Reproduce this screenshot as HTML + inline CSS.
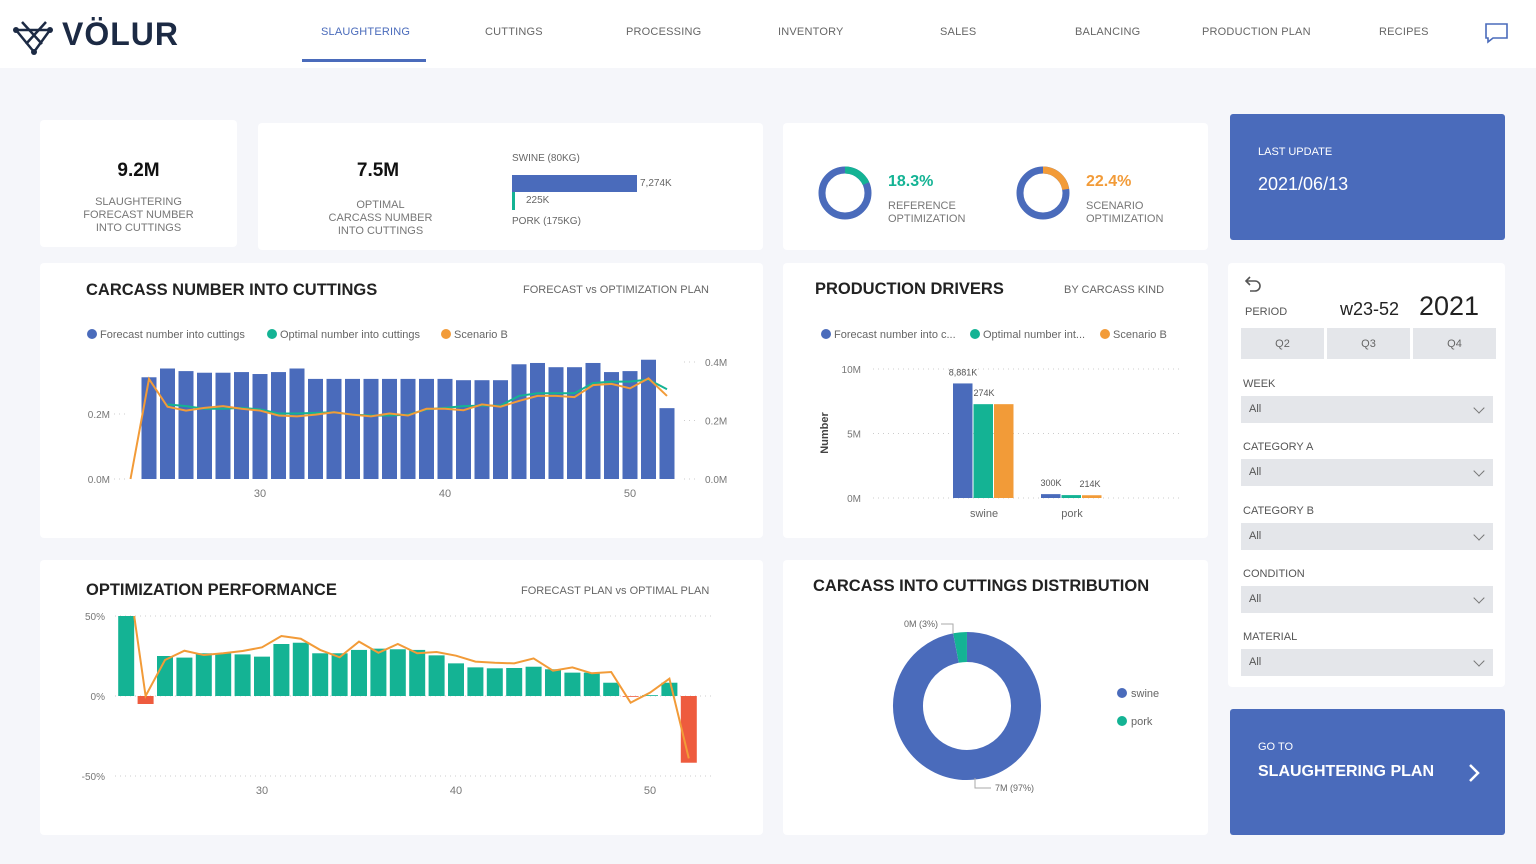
<!DOCTYPE html>
<html><head><meta charset="utf-8">
<style>
*{box-sizing:border-box;margin:0;padding:0}
body{width:1536px;height:864px;background:#f5f6fa;font-family:"Liberation Sans",sans-serif;position:relative;overflow:hidden;color:#333}
.abs{position:absolute}
.card{position:absolute;background:#fff;border-radius:4px}
.nav{position:absolute;top:26px;font-size:11px;color:#666;letter-spacing:.2px}
.lbl{position:absolute;font-size:11px;color:#777;text-align:center;line-height:13px}
.title{position:absolute;font-size:16.5px;font-weight:bold;color:#222}
.sub{position:absolute;font-size:11px;color:#666}
.slab{position:absolute;left:1243px;font-size:11px;color:#555}
.sel{position:absolute;left:1241px;width:252px;height:27px;background:#e4e6ea;font-size:11px;color:#555;padding:7px 0 0 8px}
.sel:after{content:"";position:absolute;right:10px;top:8px;width:7px;height:7px;border-right:1.5px solid #777;border-bottom:1.5px solid #777;transform:rotate(45deg)}
svg text{font-family:"Liberation Sans",sans-serif}
</style></head><body>
<div class="abs" style="left:0;top:0;width:1536px;height:68px;background:#fff"></div>
<div class="abs" style="left:12px;top:14px;height:40px">
<svg width="44" height="40" class="abs" style="left:0;top:2px"><g stroke="#1c2a44" stroke-width="2.5" fill="none"><path d="M4 14 L38 14 L22 36 Z"/><path d="M10 6 L30 28 M34 6 L14 28"/></g><circle cx="4" cy="14" r="3" fill="#1c2a44"/><circle cx="38" cy="14" r="3" fill="#1c2a44"/><circle cx="22" cy="36" r="3" fill="#1c2a44"/></svg>
<span class="abs" style="left:50px;top:2px;font-size:32px;font-weight:bold;color:#1c2a44;letter-spacing:1px">VÖLUR</span></div>
<div class="nav" style="left:321px;color:#4a6bbb">SLAUGHTERING</div>
<div class="abs" style="left:302px;top:59px;width:124px;height:3px;background:#4a6bbb"></div>
<div class="nav" style="left:485px">CUTTINGS</div>
<div class="nav" style="left:626px">PROCESSING</div>
<div class="nav" style="left:778px">INVENTORY</div>
<div class="nav" style="left:940px">SALES</div>
<div class="nav" style="left:1075px">BALANCING</div>
<div class="nav" style="left:1202px">PRODUCTION PLAN</div>
<div class="nav" style="left:1379px">RECIPES</div>
<svg class="abs" style="left:1484px;top:22px" width="26" height="22"><path d="M2 2 H23 V16 H9 L4 20 V16 H2 Z" fill="none" stroke="#4a6bbb" stroke-width="1.6"/></svg>

<div class="card" style="left:40px;top:120px;width:197px;height:127px"></div>
<div class="abs" style="left:40px;width:197px;top:160px;text-align:center;font-size:19px;font-weight:bold;color:#111">9.2M</div>
<div class="lbl" style="left:40px;width:197px;top:196px">SLAUGHTERING<br>FORECAST NUMBER<br>INTO CUTTINGS</div>

<div class="card" style="left:258px;top:123px;width:505px;height:127px"></div>
<div class="abs" style="left:318px;width:120px;top:160px;text-align:center;font-size:19px;font-weight:bold;color:#111">7.5M</div>
<div class="lbl" style="left:308px;width:145px;top:199px">OPTIMAL<br>CARCASS NUMBER<br>INTO CUTTINGS</div>
<div class="sub" style="left:512px;top:153px;font-size:10px">SWINE (80KG)</div>
<div class="abs" style="left:512px;top:175px;width:125px;height:17px;background:#4a6bbb"></div>
<div class="sub" style="left:640px;top:178px;font-size:10px">7,274K</div>
<div class="abs" style="left:512px;top:192px;width:3px;height:18px;background:#14b394"></div>
<div class="sub" style="left:526px;top:195px;font-size:10px">225K</div>
<div class="sub" style="left:512px;top:216px;font-size:10px">PORK (175KG)</div>

<div class="card" style="left:783px;top:123px;width:425px;height:127px"></div>
<svg class="abs" style="left:815px;top:163px" width="60" height="60" id="d1"></svg>
<div class="abs" style="left:888px;top:173px;font-size:16px;font-weight:bold;color:#14b394">18.3%</div>
<div class="lbl" style="left:888px;top:200px;text-align:left">REFERENCE<br>OPTIMIZATION</div>
<svg class="abs" style="left:1013px;top:163px" width="60" height="60" id="d2"></svg>
<div class="abs" style="left:1086px;top:173px;font-size:16px;font-weight:bold;color:#f29b38">22.4%</div>
<div class="lbl" style="left:1086px;top:200px;text-align:left">SCENARIO<br>OPTIMIZATION</div>

<div class="abs" style="left:1230px;top:114px;width:275px;height:126px;background:#4a6bbb;border-radius:3px"></div>
<div class="abs" style="left:1258px;top:146px;font-size:11px;color:#fff">LAST UPDATE</div>
<div class="abs" style="left:1258px;top:174px;font-size:18px;color:#fff">2021/06/13</div>

<div class="card" style="left:40px;top:263px;width:723px;height:275px"></div>
<div class="title" style="left:86px;top:281px">CARCASS NUMBER INTO CUTTINGS</div>
<div class="sub" style="left:523px;top:284px">FORECAST vs OPTIMIZATION PLAN</div>
<svg class="abs" style="left:0;top:0" width="770" height="540" id="c1"></svg>

<div class="card" style="left:783px;top:263px;width:425px;height:275px"></div>
<div class="title" style="left:815px;top:280px">PRODUCTION DRIVERS</div>
<div class="sub" style="left:1064px;top:284px">BY CARCASS KIND</div>
<svg class="abs" style="left:783px;top:263px" width="425" height="275" id="c2"></svg>

<div class="card" style="left:1228px;top:263px;width:277px;height:424px"></div>
<svg class="abs" style="left:1241px;top:273px" width="22" height="22"><path d="M6 8 H14 A5 5 0 0 1 14 18 H9" fill="none" stroke="#555" stroke-width="1.6"/><path d="M9 4 L5 8 L9 12" fill="none" stroke="#555" stroke-width="1.6"/></svg>
<div class="slab" style="left:1245px;top:306px">PERIOD</div>
<div class="abs" style="left:1340px;top:299px;font-size:18px;color:#222">w23-52</div>
<div class="abs" style="left:1419px;top:291px;font-size:27px;color:#222">2021</div>
<div class="abs" style="left:1241px;top:328px;width:83px;height:31px;background:#e4e6ea;font-size:11px;color:#666;text-align:center;padding-top:10px">Q2</div>
<div class="abs" style="left:1327px;top:328px;width:83px;height:31px;background:#e4e6ea;font-size:11px;color:#666;text-align:center;padding-top:10px">Q3</div>
<div class="abs" style="left:1413px;top:328px;width:83px;height:31px;background:#e4e6ea;font-size:11px;color:#666;text-align:center;padding-top:10px">Q4</div>
<div class="slab" style="top:378px">WEEK</div>
<div class="sel" style="top:396px">All</div>
<div class="slab" style="top:441px">CATEGORY A</div>
<div class="sel" style="top:459px">All</div>
<div class="slab" style="top:505px">CATEGORY B</div>
<div class="sel" style="top:523px">All</div>
<div class="slab" style="top:568px">CONDITION</div>
<div class="sel" style="top:586px">All</div>
<div class="slab" style="top:631px">MATERIAL</div>
<div class="sel" style="top:649px">All</div>

<div class="card" style="left:40px;top:560px;width:723px;height:275px"></div>
<div class="title" style="left:86px;top:581px">OPTIMIZATION PERFORMANCE</div>
<div class="sub" style="left:521px;top:585px">FORECAST PLAN vs OPTIMAL PLAN</div>
<svg class="abs" style="left:0;top:0" width="770" height="840" id="c3"></svg>

<div class="card" style="left:783px;top:560px;width:425px;height:275px"></div>
<div class="title" style="left:813px;top:577px">CARCASS INTO CUTTINGS DISTRIBUTION</div>
<svg class="abs" style="left:783px;top:560px" width="425" height="275" id="c4"></svg>

<div class="abs" style="left:1230px;top:709px;width:275px;height:126px;background:#4a6bbb;border-radius:3px">
<div class="abs" style="left:28px;top:32px;font-size:11px;color:#fff">GO TO</div>
<div class="abs" style="left:28px;top:54px;font-size:16px;font-weight:bold;color:#fff">SLAUGHTERING PLAN</div>
<svg class="abs" style="left:236px;top:53px" width="16" height="22"><path d="M4 3 L12 11 L4 19" fill="none" stroke="#fff" stroke-width="2.5"/></svg></div>

<script>
const NS="http://www.w3.org/2000/svg";
const BLUE="#4a6bbb",TEAL="#14b394",ORANGE="#f29b38",RED="#ee5b3e";
function mk(p,t,a){const e=document.createElementNS(NS,t);for(const k in a)e.setAttribute(k,a[k]);p.appendChild(e);return e;}

const carcassWeeks=[23,24,25,26,27,28,29,30,31,32,33,34,35,36,37,38,39,40,41,42,43,44,45,46,47,48,49,50,51,52];
const forecastBars=[null,0.313,0.340,0.332,0.327,0.327,0.329,0.323,0.329,0.340,0.308,0.308,0.308,0.308,0.308,0.308,0.308,0.308,0.304,0.304,0.304,0.353,0.357,0.344,0.344,0.357,0.329,0.332,0.367,0.218];
const optimalLine=[null,null,0.255,0.249,0.240,0.240,0.243,0.238,0.224,0.224,0.226,0.228,0.220,0.217,0.217,0.220,0.238,0.243,0.249,0.251,0.251,0.284,0.293,0.293,0.293,0.328,0.333,0.333,0.340,0.307];
const scenarioLine=[0,0.342,0.247,0.234,0.243,0.249,0.240,0.234,0.217,0.214,0.220,0.228,0.220,0.214,0.224,0.217,0.240,0.240,0.235,0.255,0.247,0.267,0.284,0.284,0.280,0.321,0.325,0.310,0.344,0.284];
const carcassLeftTicks=[0,0.2];
const carcassRightTicks=[0,0.2,0.4];
const carcassXTicks=[30,40,50];
const carcassLegend=["Forecast number into cuttings","Optimal number into cuttings","Scenario B"];

(function(){
 const s=document.getElementById('c1');
 const x=w=>260+(w-30)*18.5, yl=v=>479-v/0.2*65, yr=v=>479-v/0.4*117;
 [BLUE,TEAL,ORANGE].forEach((c,i)=>{const xs=[92,272,446][i];
  const d=mk(s,'circle',{cx:xs,cy:334,r:5,fill:c});
  
  const t=mk(s,'text',{x:xs+8,y:338,'font-size':11,fill:'#666'});t.textContent=carcassLegend[i];
  });
 carcassLeftTicks.forEach(v=>{const t=mk(s,'text',{x:110,y:yl(v)+4,'font-size':10,fill:'#777','text-anchor':'end'});t.textContent=v.toFixed(1)+'M';
  
  mk(s,'line',{x1:114,x2:128,y1:yl(v),y2:yl(v),stroke:'#ccc','stroke-dasharray':'1 4'});});
 carcassRightTicks.forEach(v=>{const t=mk(s,'text',{x:705,y:yr(v)+4,'font-size':10,fill:'#777'});t.textContent=v.toFixed(1)+'M';
  
  mk(s,'line',{x1:684,x2:698,y1:yr(v),y2:yr(v),stroke:'#ccc','stroke-dasharray':'1 4'});});
 carcassXTicks.forEach(w=>{const t=mk(s,'text',{x:x(w),y:497,'font-size':11,fill:'#777','text-anchor':'middle'});t.textContent=w;
  });
 carcassWeeks.forEach((w,i)=>{const v=forecastBars[i];if(v==null)return;
  const r=mk(s,'rect',{x:x(w)-7.5,y:yl(v),width:15,height:479-yl(v),fill:BLUE});
  });
 [[optimalLine,TEAL],[scenarioLine,ORANGE]].forEach(([arr,c])=>{let d='';
  carcassWeeks.forEach((w,i)=>{if(arr[i]==null)return;d+=(d?'L':'M')+x(w)+' '+yr(arr[i]);});
  const p=mk(s,'path',{d,fill:'none',stroke:c,'stroke-width':2});
  });
})();

const driverCategories=["swine","pork"];
const driverForecast=[8.881,0.300];
const driverOptimal=[7.274,0.225];
const driverScenario=[7.274,0.214];
const driverTicks=[0,5,10];
const driverLabels=[["8,881K","274K"],["300K","214K"]];
const driverLegend=["Forecast number into c...","Optimal number int...","Scenario B"];
(function(){
 const s=document.getElementById('c2');
 const y=v=>235-v*12.9, cx=[201,289];
 [BLUE,TEAL,ORANGE].forEach((c,i)=>{const xs=[43,192,322][i];
  const d=mk(s,'circle',{cx:xs,cy:71,r:5,fill:c});
  const t=mk(s,'text',{x:xs+8,y:75,'font-size':11,fill:'#666'});t.textContent=driverLegend[i];
  });
 driverTicks.forEach(v=>{const t=mk(s,'text',{x:78,y:y(v)+4,'font-size':10,fill:'#777','text-anchor':'end'});t.textContent=v+'M';
  
  mk(s,'line',{x1:90,x2:400,y1:y(v),y2:y(v),stroke:'#ccc','stroke-dasharray':'1 4'});});
 const yt=mk(s,'text',{x:45,y:170,'font-size':11,fill:'#444','font-weight':'bold',transform:'rotate(-90 45 170)','text-anchor':'middle'});yt.textContent='Number';
 
 driverCategories.forEach((c,i)=>{[[driverForecast,BLUE],[driverOptimal,TEAL],[driverScenario,ORANGE]].forEach(([arr,col],j)=>{
  const r=mk(s,'rect',{x:cx[i]-31+j*20.5,y:y(arr[i]),width:19.5,height:235-y(arr[i]),fill:col});
  });
  const t=mk(s,'text',{x:cx[i],y:254,'font-size':11,fill:'#666','text-anchor':'middle'});t.textContent=c;
  
  const l1=mk(s,'text',{x:cx[i]-21,y:y(driverForecast[i])-8,'font-size':9,fill:'#555','text-anchor':'middle'});l1.textContent=driverLabels[i][0];
  
  const l2=mk(s,'text',{x:cx[i]+(i?18:0),y:y(Math.max(driverOptimal[i],driverScenario[i]))-8,'font-size':9,fill:'#555','text-anchor':'middle'});l2.textContent=driverLabels[i][1];
  });
})();

const perfWeeks=[23,24,25,26,27,28,29,30,31,32,33,34,35,36,37,38,39,40,41,42,43,44,45,46,47,48,49,50,51,52];
const perfBars=[50,-5,25,24,26.7,26.7,26,24.6,32.5,33.3,26.7,26.7,28.8,29.6,29.2,28.8,25.4,20.4,17.9,17.3,17.5,18.3,16.7,14.6,14.6,8.3,-0.5,0.5,8.3,-41.7];
const perfLine=[50,0,22.5,28.3,25.6,26.7,28.1,30.4,37.5,35.8,28.8,24.2,34,27,32.5,26.7,27.5,25.2,21.5,20.8,20.4,23.5,15.8,17.9,14.2,15,-4.2,2.1,10.8,-39];
const perfTicks=[50,0,-50];
const perfXTicks=[30,40,50];
(function(){
 const s=document.getElementById('c3');
 const x=w=>262+(w-30)*19.4, y=v=>696-v*1.6;
 perfTicks.forEach(v=>{const t=mk(s,'text',{x:105,y:y(v)+4,'font-size':10,fill:'#777','text-anchor':'end'});t.textContent=v+'%';
  
  mk(s,'line',{x1:115,x2:715,y1:y(v),y2:y(v),stroke:'#ccc','stroke-dasharray':'1 4'});});
 perfXTicks.forEach(w=>{const t=mk(s,'text',{x:x(w),y:794,'font-size':11,fill:'#777','text-anchor':'middle'});t.textContent=w;
  });
 perfWeeks.forEach((w,i)=>{const v=perfBars[i];
  const r=mk(s,'rect',{x:x(w)-8,y:Math.min(y(v),696),width:16,height:Math.abs(v*1.6),fill:v<0?RED:TEAL});
  });
 let d='';perfWeeks.forEach((w,i)=>{d+=(i?'L':'M')+(x(w)+(i==0?8:0))+' '+y(perfLine[i]);});
 const p=mk(s,'path',{d,fill:'none',stroke:ORANGE,'stroke-width':2});
 
})();

function arc(cx,cy,r,a0,a1){const p=a=>[cx+r*Math.sin(a*2*Math.PI),cy-r*Math.cos(a*2*Math.PI)];
 const [x0,y0]=p(a0),[x1,y1]=p(a1);return `M${x0} ${y0} A${r} ${r} 0 ${a1-a0>0.5?1:0} 1 ${x1} ${y1}`;}
const refOpt=[0.183], scenOpt=[0.224];
[[document.getElementById('d1'),refOpt[0],TEAL],[document.getElementById('d2'),scenOpt[0],ORANGE]].forEach(([s,v,c])=>{
 mk(s,'circle',{cx:30,cy:30,r:23,fill:'none',stroke:BLUE,'stroke-width':7});
 const a=mk(s,'path',{d:arc(30,30,23,0,v),fill:'none',stroke:c,'stroke-width':7});
 });

const distCategories=["swine","pork"];
const distValues=[0.97,0.03];
const distLabels=["7M (97%)","0M (3%)"];
(function(){
 const s=document.getElementById('c4');
 const cx=184,cy=146,r=59;
 const cols=[BLUE,TEAL];
 let a=-distValues[1];
 [1,0].forEach(i=>{const p=mk(s,'path',{d:arc(cx,cy,r,a,a+distValues[i]-0.0001),fill:'none',stroke:cols[i],'stroke-width':30});
  a+=distValues[i];});
 const t1=mk(s,'text',{x:138,y:67,'font-size':9,fill:'#666','text-anchor':'middle'});t1.textContent=distLabels[1];
 
 mk(s,'path',{d:'M158 64 H170 V74',fill:'none',stroke:'#aaa'});
 const t2=mk(s,'text',{x:212,y:231,'font-size':9,fill:'#666'});t2.textContent=distLabels[0];
 
 mk(s,'path',{d:'M192 218 V228 H208',fill:'none',stroke:'#aaa'});
 distCategories.forEach((c,i)=>{const m=mk(s,'circle',{cx:339,cy:133+i*28,r:5,fill:cols[i]});
  
  const t=mk(s,'text',{x:348,y:137+i*28,'font-size':11,fill:'#666'});t.textContent=c;
  });
})();
</script>
</body></html>
